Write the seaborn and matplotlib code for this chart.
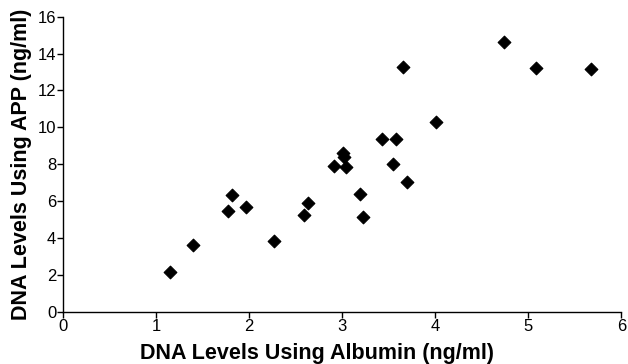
import matplotlib
matplotlib.use("Agg")
import matplotlib.pyplot as plt
import seaborn as sns
import pandas as pd

albumin = [1.15, 1.40, 1.77, 1.81, 1.96, 2.27, 2.59, 2.63, 2.91, 3.01, 3.02, 3.04,
           3.19, 3.22, 3.43, 3.55, 3.58, 3.65, 3.70, 4.01, 4.74, 5.08, 5.67]
app = [2.14, 3.60, 5.48, 6.33, 5.69, 3.85, 5.26, 5.88, 7.92, 8.60, 8.40, 7.86,
       6.37, 5.14, 9.37, 8.01, 9.35, 13.27, 7.03, 10.30, 14.64, 13.23, 13.18]

x_ticks = [0, 1, 2, 3, 4, 5, 6]
y_ticks = [0, 2, 4, 6, 8, 10, 12, 14, 16]

df = pd.DataFrame({"Albumin": albumin, "APP": app})

sns.set_style("ticks")
plt.rcParams['font.family'] = ['Liberation Sans', 'DejaVu Sans']
plt.rcParams['text.color'] = 'black'
plt.rcParams['axes.labelcolor'] = 'black'

fig = plt.figure(figsize=(6.28, 3.64), dpi=100)
ax = fig.add_axes([0.1008, 0.1437, 0.8885, 0.8103])

sns.scatterplot(data=df, x="Albumin", y="APP", marker="D", s=42, color="black",
                edgecolor="black", linewidth=0.8, ax=ax, legend=False)

ax.set_xlim(0, 6)
ax.set_ylim(0, 16)
ax.set_xticks(x_ticks)
ax.set_yticks(y_ticks)
ax.tick_params(axis="both", labelsize=12, length=4, width=1, direction="out", pad=1,
               colors="black", labelcolor="black")
for s in ["top", "right"]:
    ax.spines[s].set_visible(False)
for s in ["left", "bottom"]:
    ax.spines[s].set_linewidth(1)
    ax.spines[s].set_color("black")

ax.set_xlabel("DNA Levels Using Albumin (ng/ml)", fontsize=15.5, fontweight="bold",
              labelpad=5, color="black")
ax.xaxis.set_label_coords(0.454, -0.105)
ax.set_ylabel("DNA Levels Using APP (ng/ml)", fontsize=15.5, fontweight="bold",
              labelpad=4, color="black")

fig.savefig("out.png", dpi=100)
